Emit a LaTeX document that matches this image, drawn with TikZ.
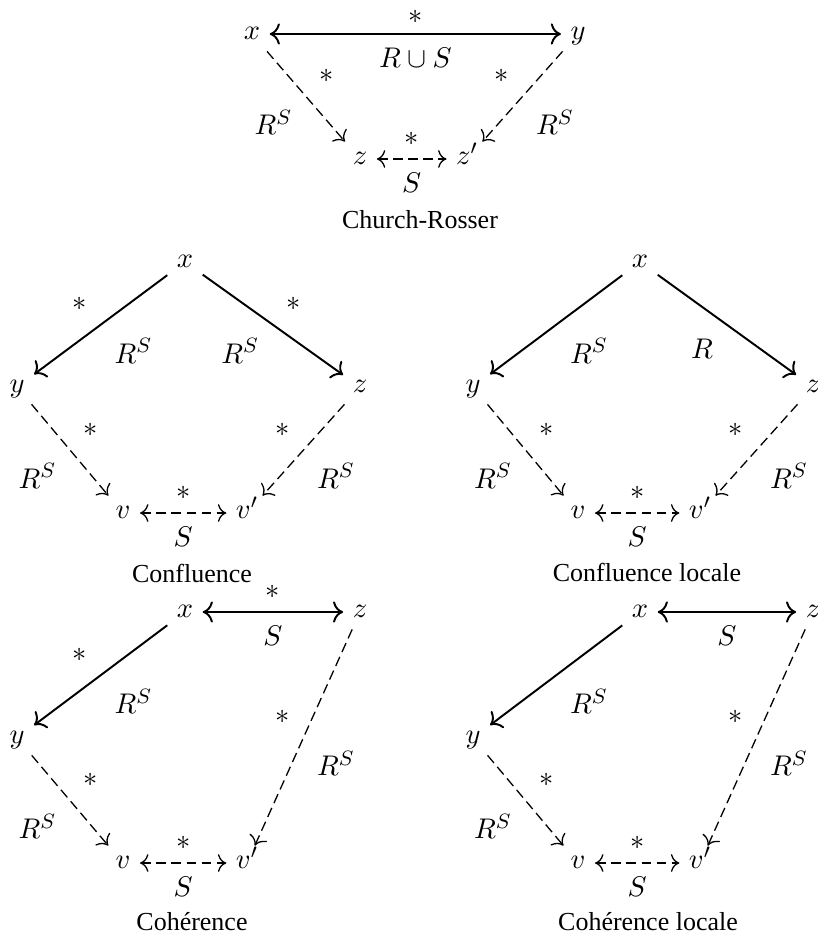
\documentclass[tikz,border=0pt]{standalone}
\usepackage{fontspec}
\setmainfont{Liberation Serif}
\usetikzlibrary{arrows.meta}

\begin{document}
\begin{tikzpicture}[
        x=0.385pt, y=-0.385pt,
        auto,
        font=\fontsize{11}{13}\selectfont,
        obj/.style={inner sep=3.5pt, text height=1.1ex, text depth=0.2ex},
        caption/.style={font=\normalsize},
        line/.style={draw, line width=0.75pt, -{Computer Modern Rightarrow[scale=1.2]}, nodes={inner sep=5pt}},
        dline/.style={draw, line width=0.5pt, dash pattern=on 3.8pt off 2pt, -{Computer Modern Rightarrow[scale=1.3]}, nodes={inner sep=5pt}},
        both/.style={{Computer Modern Rightarrow[scale=1.2]}-{Computer Modern Rightarrow[scale=1.2]}}
    ]
    \useasboundingbox (0,0) rectangle (817,940);

    % Church-Rosser
    \node [obj] (crx) at (252,34) {$x$};
    \node [obj] (cry) at (578,34) {$y$};
    \node [obj] (crz) at (360,159) {$z$};
    \node [obj] (crzp) at (467,159) {$z'$};
    \node [caption] (crcap) at (420,220) {Church-Rosser};

    \path [line, both] (crx) -- node [inner sep=1pt, yshift=2.5pt] {$*$} node [swap] {$R\cup S$} (cry);
    \path [dline] (crx) -- node {$*$} node [swap] {$R^S$} (crz);
    \path [dline] (cry) -- node [swap] {$*$} node {$R^S$} (crzp);
    \path [dline, both] (crz) -- node {$*$} node [swap] {$S$} (crzp);

    % Confluence
    \node [obj] (cfx) at (185,262) {$x$};
    \node [obj] (cfy) at (17,387) {$y$};
    \node [obj] (cfz) at (360,387) {$z$};
    \node [obj] (cfv) at (123,513) {$v$};
    \node [obj] (cfvp) at (247,513) {$v'$};
    \node [caption] (cfcap) at (192,573) {Confluence};

    \path [line] (cfx) -- node [swap] {$*$} node {$R^S$} (cfy);
    \path [line] (cfx) -- node {$*$} node [swap] {$R^S$} (cfz);
    \path [dline] (cfy) -- node {$*$} node [swap] {$R^S$} (cfv);
    \path [dline] (cfz) -- node [swap] {$*$} node {$R^S$} (cfvp);
    \path [dline, both] (cfv) -- node {$*$} node [swap] {$S$} (cfvp);

    % Confluence locale
    \node [obj] (clx) at (640,262) {$x$};
    \node [obj] (cly) at (473,387) {$y$};
    \node [obj] (clz) at (813,387) {$z$};
    \node [obj] (clv) at (578,513) {$v$};
    \node [obj] (clvp) at (700,513) {$v'$};
    \node [caption] (clcap) at (647,572) {Confluence locale};

    \path [line] (clx) -- node {$R^S$} (cly);
    \path [line] (clx) -- node [swap] {$R$} (clz);
    \path [dline] (cly) -- node {$*$} node [swap] {$R^S$} (clv);
    \path [dline] (clz) -- node [swap] {$*$} node {$R^S$} (clvp);
    \path [dline, both] (clv) -- node {$*$} node [swap] {$S$} (clvp);

    % Coherence
    \node [obj] (cox) at (185,612) {$x$};
    \node [obj] (coz) at (360,612) {$z$};
    \node [obj] (coy) at (17,738) {$y$};
    \node [obj] (cov) at (123,863) {$v$};
    \node [obj] (covp) at (247,863) {$v'$};
    \node [caption] (cocap) at (192,922) {Cohérence};

    \path [line, both] (cox) -- node {$*$} node [swap] {$S$} (coz);
    \path [line] (cox) -- node [swap] {$*$} node {$R^S$} (coy);
    \path [dline] (coy) -- node {$*$} node [swap] {$R^S$} (cov);
    \path [dline] (coz) -- node [swap] {$*$} node {$R^S$} (covp);
    \path [dline, both] (cov) -- node {$*$} node [swap] {$S$} (covp);

    % Coherence locale
    \node [obj] (ccx) at (640,612) {$x$};
    \node [obj] (ccz) at (813,612) {$z$};
    \node [obj] (ccy) at (473,738) {$y$};
    \node [obj] (ccv) at (578,863) {$v$};
    \node [obj] (ccvp) at (700,863) {$v'$};
    \node [caption] (cccap) at (648,922) {Cohérence locale};

    \path [line, both] (ccx) -- node [swap] {$S$} (ccz);
    \path [line] (ccx) -- node {$R^S$} (ccy);
    \path [dline] (ccy) -- node {$*$} node [swap] {$R^S$} (ccv);
    \path [dline] (ccz) -- node [swap] {$*$} node {$R^S$} (ccvp);
    \path [dline, both] (ccv) -- node {$*$} node [swap] {$S$} (ccvp);

\end{tikzpicture}
\end{document}
